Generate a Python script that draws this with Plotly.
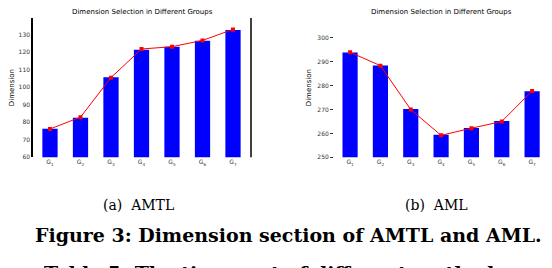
import plotly.graph_objects as go

groups = ["G<sub>1</sub>", "G<sub>2</sub>", "G<sub>3</sub>", "G<sub>4</sub>", "G<sub>5</sub>", "G<sub>6</sub>", "G<sub>7</sub>"]
amtl_bars = [76.2, 82.4, 105.6, 121.4, 123.1, 126.5, 132.7]
amtl_line = [76.0, 82.8, 105.4, 121.8, 123.1, 126.7, 133.0]
aml_bars = [293.9, 288.5, 270.2, 259.4, 262.3, 265.2, 277.7]
aml_line = [294.0, 288.4, 270.0, 259.2, 262.2, 265.0, 277.8]
left_ticks = [60, 70, 80, 90, 100, 110, 120, 130]
right_ticks = [250, 260, 270, 280, 290, 300]

W, H = 552, 268
def px(x): return x / W
def py(y): return 1 - y / H

fig = go.Figure()
xs = list(range(7))
fig.add_trace(go.Bar(x=xs, y=amtl_bars, width=0.5, marker_color="#0000ff", marker_line_width=0,
                     xaxis="x", yaxis="y", showlegend=False))
fig.add_trace(go.Scatter(x=xs, y=amtl_line, mode="lines+markers", line=dict(color="red", width=1),
                         marker=dict(color="red", size=4, symbol="square"), xaxis="x", yaxis="y", showlegend=False))
fig.add_trace(go.Bar(x=xs, y=aml_bars, width=0.5, marker_color="#0000ff", marker_line_width=0,
                     xaxis="x2", yaxis="y2", showlegend=False))
fig.add_trace(go.Scatter(x=xs, y=aml_line, mode="lines+markers", line=dict(color="red", width=1),
                         marker=dict(color="red", size=4, symbol="square"), xaxis="x2", yaxis="y2", showlegend=False))

tickfont = dict(family="DejaVu Sans", size=6, color="#333")
fig.update_layout(
    width=W, height=H, margin=dict(l=0, r=0, t=0, b=0),
    paper_bgcolor="white", plot_bgcolor="white",
    xaxis=dict(domain=[px(25), px(243)], range=[-0.557, 6.59], tickvals=xs, ticktext=groups,
               showgrid=False, zeroline=False, showline=False, ticks="", tickfont=tickfont, anchor="y"),
    yaxis=dict(domain=[py(151), py(10)], range=[59.8, 139.6], tickvals=left_ticks,
               showgrid=False, zeroline=False, showline=True, linecolor="black", linewidth=1.5,
               ticks="", tickfont=tickfont, anchor="x", mirror=False,
               title=dict(text="Dimension", font=dict(family="DejaVu Sans", size=7, color="black"), standoff=4)),
    xaxis2=dict(domain=[px(326), px(542)], range=[-0.53, 6.59], tickvals=xs, ticktext=groups,
                showgrid=False, zeroline=False, showline=False, ticks="", tickfont=tickfont, anchor="y2"),
    yaxis2=dict(domain=[py(151), py(10)], range=[250, 308.4], tickvals=right_ticks,
                showgrid=False, zeroline=False, showline=False, ticks="outside", ticklen=3, tickcolor="#333",
                tickfont=tickfont, anchor="x2",
                title=dict(text="Dimension", font=dict(family="DejaVu Sans", size=7, color="black"), standoff=4)),
    shapes=[
        dict(type="line", xref="paper", yref="paper", x0=px(243), x1=px(243), y0=py(151), y1=py(10),
             line=dict(color="black", width=1.5)),
        dict(type="line", xref="paper", yref="paper", x0=px(542), x1=px(542), y0=py(151), y1=py(10),
             line=dict(color="black", width=1.5)),
    ],
    annotations=[
        dict(text="Dimension Selection in Different Groups", xref="paper", yref="paper", x=px(134), y=py(4),
             showarrow=False, font=dict(family="DejaVu Sans", size=7, color="black"), xanchor="center", yanchor="middle"),
        dict(text="Dimension Selection in Different Groups", xref="paper", yref="paper", x=px(433), y=py(4),
             showarrow=False, font=dict(family="DejaVu Sans", size=7, color="black"), xanchor="center", yanchor="middle"),
        dict(text="(a)  AMTL", xref="paper", yref="paper", x=px(130), y=py(199),
             showarrow=False, font=dict(family="DejaVu Serif", size=14, color="black"), xanchor="center", yanchor="middle"),
        dict(text="(b)  AML", xref="paper", yref="paper", x=px(428), y=py(199),
             showarrow=False, font=dict(family="DejaVu Serif", size=14, color="black"), xanchor="center", yanchor="middle"),
        dict(text="<b>Figure 3: Dimension section of AMTL and AML.</b>", xref="paper", yref="paper", x=px(280), y=py(230),
             showarrow=False, font=dict(family="DejaVu Serif", size=19, color="black"), xanchor="center", yanchor="middle"),
        dict(text="<b>Table 5: The time cost of different methods</b>", xref="paper", yref="paper", x=px(266), y=py(268),
             showarrow=False, font=dict(family="DejaVu Serif", size=19, color="black"), xanchor="center", yanchor="middle"),
    ],
)
fig.write_html("out.html")
